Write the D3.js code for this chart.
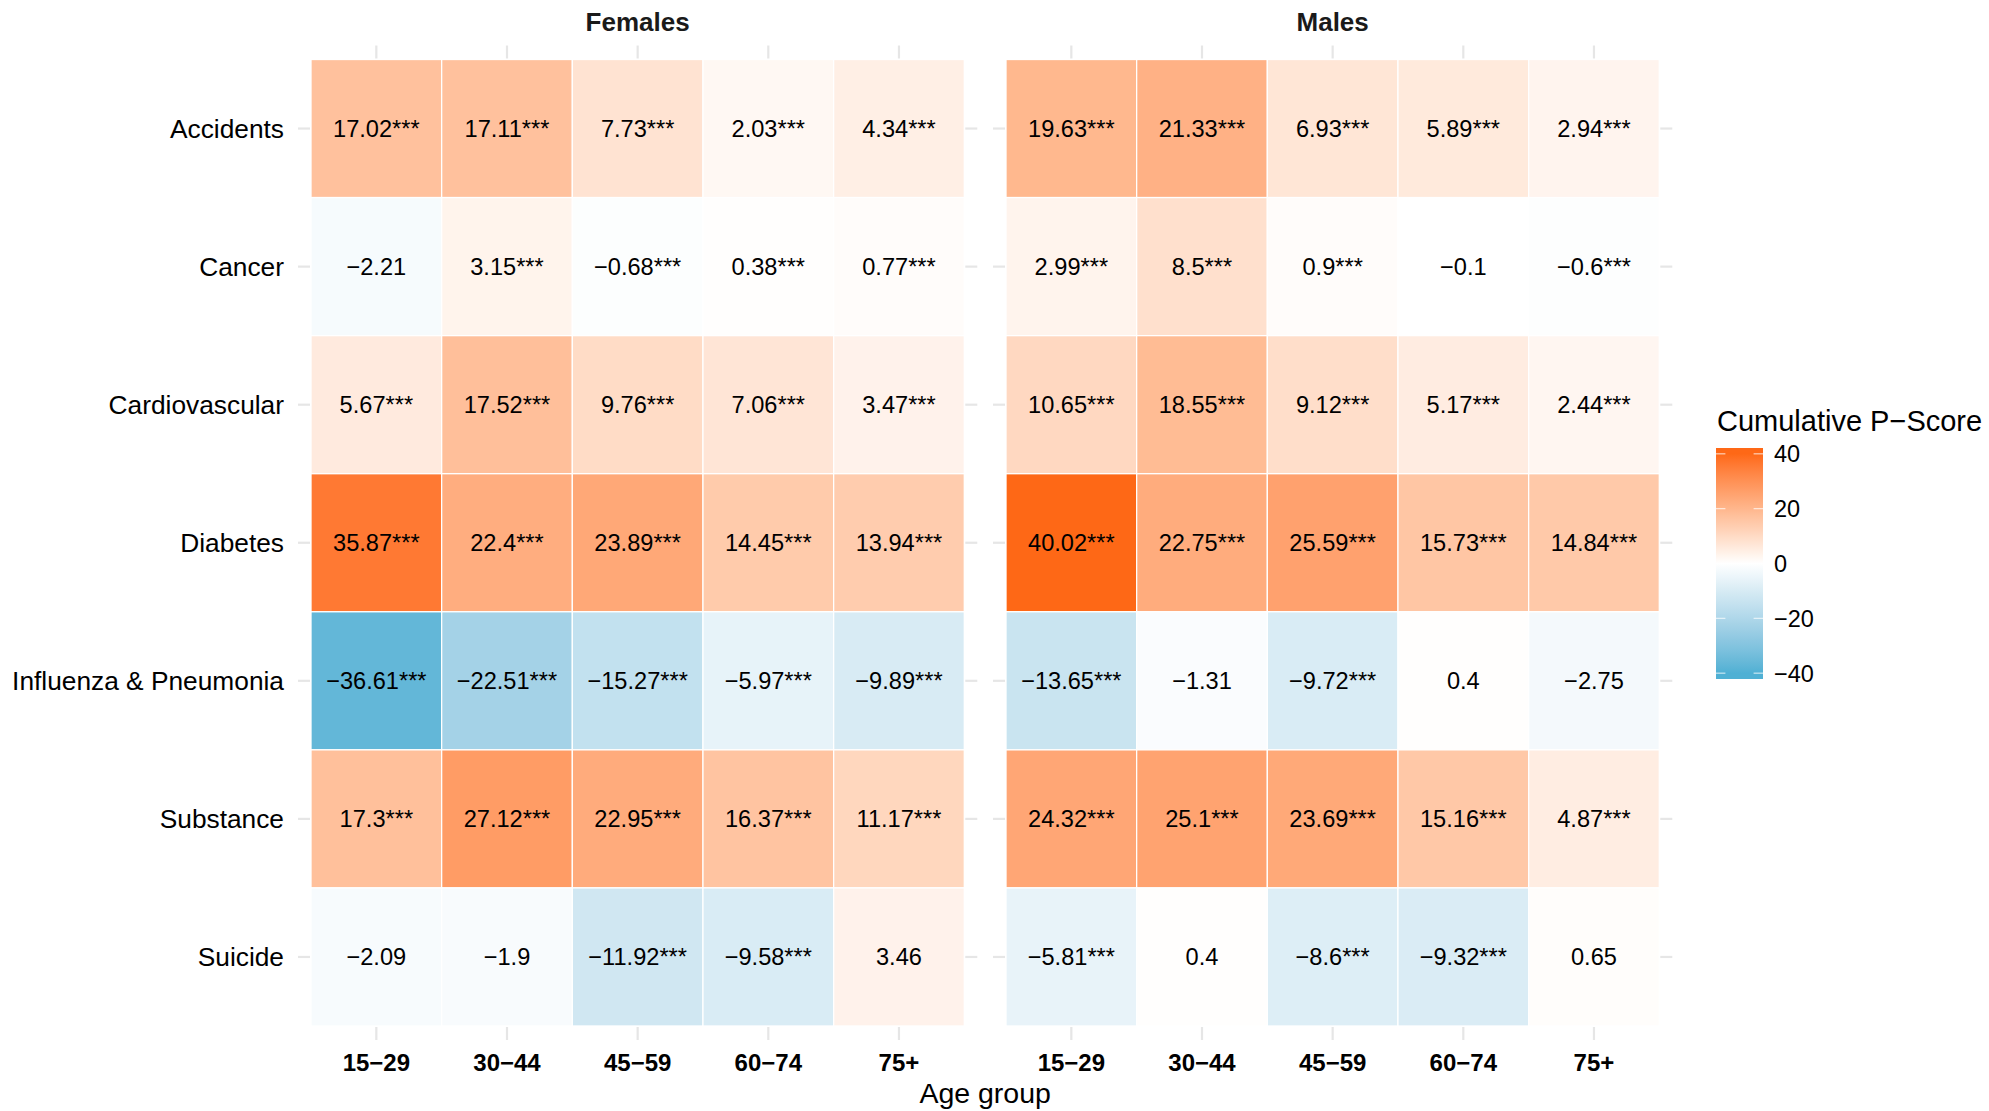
<!DOCTYPE html>
<html>
<head>
<meta charset="utf-8">
<script src="https://cdn.jsdelivr.net/npm/d3@7/dist/d3.min.js"></script>
<style>
  html, body { margin: 0; padding: 0; background: #ffffff; }
  svg { display: block; font-family: "Liberation Sans", Arial, Helvetica, sans-serif; }
</style>
</head>
<body>
<svg id="chart" width="1989" height="1111"></svg>
<script>
// ---------------- data ----------------
const panels = ["Females", "Males"];
const ageGroups = ["15\u221229", "30\u221244", "45\u221259", "60\u221274", "75+"];
const causes = ["Accidents", "Cancer", "Cardiovascular", "Diabetes", "Influenza & Pneumonia", "Substance", "Suicide"];

// Cumulative P-scores, rows = causes, columns = age groups
const femaleValues = [
  [17.02, 17.11, 7.73, 2.03, 4.34],
  [-2.21, 3.15, -0.68, 0.38, 0.77],
  [5.67, 17.52, 9.76, 7.06, 3.47],
  [35.87, 22.4, 23.89, 14.45, 13.94],
  [-36.61, -22.51, -15.27, -5.97, -9.89],
  [17.3, 27.12, 22.95, 16.37, 11.17],
  [-2.09, -1.9, -11.92, -9.58, 3.46]
];
const femaleStars = [
  ["***", "***", "***", "***", "***"],
  ["", "***", "***", "***", "***"],
  ["***", "***", "***", "***", "***"],
  ["***", "***", "***", "***", "***"],
  ["***", "***", "***", "***", "***"],
  ["***", "***", "***", "***", "***"],
  ["", "", "***", "***", ""]
];
const maleValues = [
  [19.63, 21.33, 6.93, 5.89, 2.94],
  [2.99, 8.5, 0.9, -0.1, -0.6],
  [10.65, 18.55, 9.12, 5.17, 2.44],
  [40.02, 22.75, 25.59, 15.73, 14.84],
  [-13.65, -1.31, -9.72, 0.4, -2.75],
  [24.32, 25.1, 23.69, 15.16, 4.87],
  [-5.81, 0.4, -8.6, -9.32, 0.65]
];
const maleStars = [
  ["***", "***", "***", "***", "***"],
  ["***", "***", "***", "", "***"],
  ["***", "***", "***", "***", "***"],
  ["***", "***", "***", "***", "***"],
  ["***", "", "***", "", ""],
  ["***", "***", "***", "***", "***"],
  ["***", "", "***", "***", ""]
];
const legendTicks = [40, 20, 0, -20, -40];
const legendTitle = "Cumulative P\u2212Score";
const xTitle = "Age group";

// ---------------- build table ----------------
const panelValues = { Females: femaleValues, Males: maleValues };
const panelStars = { Females: femaleStars, Males: maleStars };
const cells = [];
panels.forEach(p => {
  causes.forEach((c, i) => {
    ageGroups.forEach((a, j) => {
      cells.push({ panel: p, cause: c, age: a, value: panelValues[p][i][j], stars: panelStars[p][i][j] });
    });
  });
});
const maxAbs = d3.max(cells, d => Math.abs(d.value));

const fmt = v => (v < 0 ? "\u2212" : "") + String(Math.abs(v));

// ---------------- scales ----------------
const lowCol = "#4FB0D4", midCol = "#FFFFFF", highCol = "#FE6816";
const color = d3.scaleLinear()
  .domain([-maxAbs, 0, maxAbs])
  .range([lowCol, midCol, highCol])
  .interpolate(d3.interpolateLab)
  .clamp(true);

const panelX = d3.scaleOrdinal().domain(panels).range([311, 1006]);
const panelW = 653.3;
const x = d3.scaleBand().domain(ageGroups).range([0, panelW]).padding(0);
const y = d3.scaleBand().domain(causes).range([59.5, 1026]).padding(0);

const svg = d3.select("#chart");
const tickCol = "#E6E6E6";

// ---------------- panels ----------------
panels.forEach(p => {
  const g = svg.append("g").attr("transform", `translate(${panelX(p)},0)`);

  // strip title
  g.append("text")
    .attr("x", panelW / 2).attr("y", 22)
    .attr("dy", "0.36em")
    .attr("text-anchor", "middle")
    .attr("font-weight", "bold")
    .attr("font-size", 26)
    .attr("fill", "#1a1a1a")
    .text(p);

  const pc = cells.filter(d => d.panel === p);

  g.selectAll("rect.tile").data(pc).join("rect")
    .attr("class", "tile")
    .attr("x", d => x(d.age))
    .attr("y", d => y(d.cause))
    .attr("width", x.bandwidth())
    .attr("height", y.bandwidth())
    .attr("fill", d => color(d.value))
    .attr("stroke", "#ffffff")
    .attr("stroke-width", 1.3);

  g.selectAll("text.lab").data(pc).join("text")
    .attr("class", "lab")
    .attr("x", d => x(d.age) + x.bandwidth() / 2)
    .attr("y", d => y(d.cause) + y.bandwidth() / 2)
    .attr("dy", "0.36em")
    .attr("text-anchor", "middle")
    .attr("font-size", 23.6)
    .attr("fill", "#000000")
    .text(d => fmt(d.value) + d.stars);

  // ticks: top & bottom
  const top = y.range()[0], bottom = y.range()[1];
  ageGroups.forEach(a => {
    const cx = x(a) + x.bandwidth() / 2;
    g.append("line").attr("x1", cx).attr("x2", cx).attr("y1", top - 14).attr("y2", top - 1)
      .attr("stroke", tickCol).attr("stroke-width", 2.2);
    g.append("line").attr("x1", cx).attr("x2", cx).attr("y1", bottom + 1).attr("y2", bottom + 14)
      .attr("stroke", tickCol).attr("stroke-width", 2.2);
  });
  // ticks: left & right
  causes.forEach(c => {
    const cy = y(c) + y.bandwidth() / 2;
    g.append("line").attr("x1", -13).attr("x2", -1).attr("y1", cy).attr("y2", cy)
      .attr("stroke", tickCol).attr("stroke-width", 2.2);
    g.append("line").attr("x1", panelW + 1).attr("x2", panelW + 13).attr("y1", cy).attr("y2", cy)
      .attr("stroke", tickCol).attr("stroke-width", 2.2);
  });

  // x tick labels
  g.selectAll("text.xt").data(ageGroups).join("text")
    .attr("class", "xt")
    .attr("x", d => x(d) + x.bandwidth() / 2)
    .attr("y", 1062)
    .attr("dy", "0.36em")
    .attr("text-anchor", "middle")
    .attr("font-weight", "bold")
    .attr("font-size", 24)
    .attr("fill", "#000000")
    .text(d => d);
});

// y tick labels
svg.selectAll("text.yt").data(causes).join("text")
  .attr("class", "yt")
  .attr("x", 284)
  .attr("y", d => y(d) + y.bandwidth() / 2)
  .attr("dy", "0.36em")
  .attr("text-anchor", "end")
  .attr("font-size", 26.3)
  .attr("fill", "#000000")
  .text(d => d);

// x axis title
svg.append("text")
  .attr("x", (311 + 1006 + panelW) / 2)
  .attr("y", 1093)
  .attr("dy", "0.36em")
  .attr("text-anchor", "middle")
  .attr("font-size", 28.5)
  .attr("fill", "#000000")
  .text(xTitle);

// ---------------- legend ----------------
const barX = 1716, barY = 448, barW = 47, barH = 231, nbin = 20;
const half = barH / nbin / 2;
const ly = d3.scaleLinear().domain([-maxAbs, maxAbs]).range([barY + barH - half, barY + half]);

const defs = svg.append("defs");
const grad = defs.append("linearGradient").attr("id", "lg")
  .attr("x1", 0).attr("x2", 0).attr("y1", 1).attr("y2", 0);
grad.append("stop").attr("offset", 0).attr("stop-color", color(-maxAbs));
d3.range(0, 41).forEach(k => {
  const v = -maxAbs + (k / 40) * 2 * maxAbs;
  grad.append("stop").attr("offset", (barY + barH - ly(v)) / barH).attr("stop-color", color(v));
});
grad.append("stop").attr("offset", 1).attr("stop-color", color(maxAbs));

svg.append("text")
  .attr("x", 1717).attr("y", 431)
  .attr("font-size", 29)
  .attr("fill", "#000000")
  .text(legendTitle);

svg.append("rect")
  .attr("x", barX).attr("y", barY).attr("width", barW).attr("height", barH)
  .attr("fill", "url(#lg)");

legendTicks.forEach(t => {
  const ty = ly(t);
  svg.append("line").attr("x1", barX).attr("x2", barX + 9.4).attr("y1", ty).attr("y2", ty)
    .attr("stroke", "#ffffff").attr("stroke-opacity", 0.7).attr("stroke-width", 1.2);
  svg.append("line").attr("x1", barX + barW - 9.4).attr("x2", barX + barW).attr("y1", ty).attr("y2", ty)
    .attr("stroke", "#ffffff").attr("stroke-opacity", 0.7).attr("stroke-width", 1.2);
  svg.append("text")
    .attr("x", 1774).attr("y", ty)
    .attr("dy", "0.36em")
    .attr("font-size", 23.5)
    .attr("fill", "#000000")
    .text(fmt(t));
});
</script>
</body>
</html>
